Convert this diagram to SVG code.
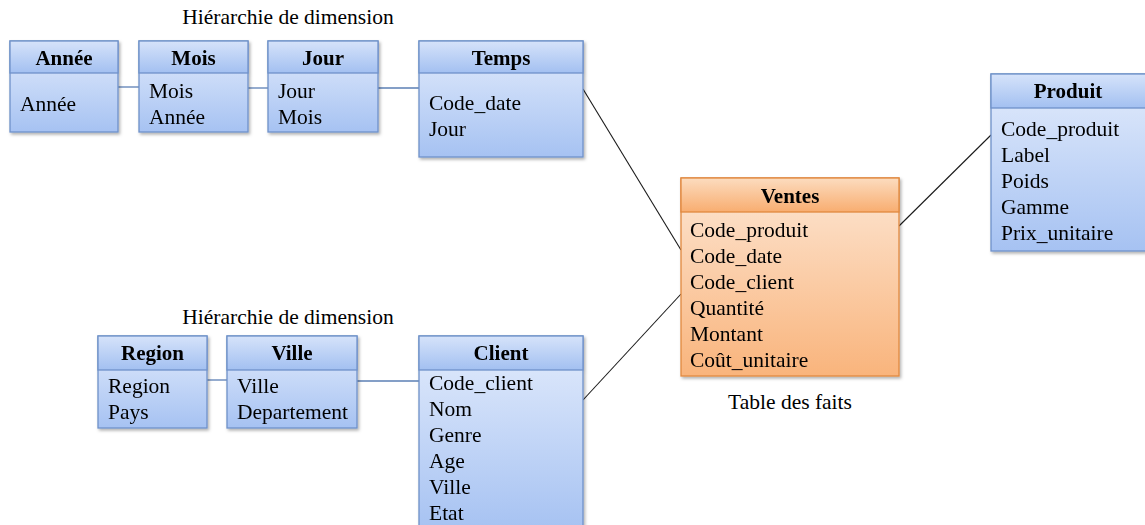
<svg xmlns="http://www.w3.org/2000/svg" width="1145" height="525" viewBox="0 0 1145 525">
<style>
text{font-family:"Liberation Serif","Times New Roman",serif;font-size:21.5px;fill:#000}
.h{font-weight:bold;text-anchor:middle;font-size:21px}
.lbl{font-size:21.5px}
.bb{fill:url(#gBody);stroke:#6f91c9;stroke-width:1.3}
.bh{fill:url(#gHead);stroke:#6f91c9;stroke-width:1.3}
.ob{fill:url(#oBody);stroke:#e0893f;stroke-width:1.3}
.oh{fill:url(#oHead);stroke:#e0893f;stroke-width:1.3}
.c{stroke:#1a1a1a;stroke-width:1.1;fill:none}
.cb{stroke:#5b7fb5;stroke-width:1.3;fill:none}
</style>
<defs>
<linearGradient id="gHead" x1="0" y1="0" x2="0" y2="1"><stop offset="0" stop-color="#d6e3fa"/><stop offset="1" stop-color="#a3c0f1"/></linearGradient>
<linearGradient id="gBody" x1="0" y1="0" x2="0" y2="1"><stop offset="0" stop-color="#e3ecfc"/><stop offset="1" stop-color="#a6c2f2"/></linearGradient>
<linearGradient id="oHead" x1="0" y1="0" x2="0" y2="1"><stop offset="0" stop-color="#fcdcbf"/><stop offset="1" stop-color="#f8ad70"/></linearGradient>
<linearGradient id="oBody" x1="0" y1="0" x2="0" y2="1"><stop offset="0" stop-color="#fde6d3"/><stop offset="1" stop-color="#f9b47c"/></linearGradient>
<filter id="sh" x="-10%" y="-10%" width="130%" height="130%"><feDropShadow dx="1.5" dy="2" stdDeviation="1.5" flood-color="#000" flood-opacity="0.3"/></filter>
</defs>
<rect width="1145" height="525" fill="#fff"/>
<g id="connectors">
<line class="cb" x1="118" y1="87" x2="139" y2="87"/>
<line class="cb" x1="248" y1="88" x2="268" y2="88"/>
<line class="cb" x1="378" y1="88" x2="419" y2="88"/>
<line class="c" x1="583" y1="89" x2="681" y2="250"/>
<line class="c" x1="583" y1="400" x2="681" y2="294"/>
<line class="c" x1="899" y1="226" x2="991" y2="135"/>
<line class="cb" x1="207" y1="380" x2="227" y2="380"/>
<line class="cb" x1="357" y1="381" x2="419" y2="381"/>
</g>
<g id="labels">
<text class="lbl" x="288" y="24" text-anchor="middle">Hiérarchie de dimension</text>
<text class="lbl" x="288" y="324" text-anchor="middle">Hiérarchie de dimension</text>
<text class="lbl" x="790" y="409" text-anchor="middle">Table des faits</text>
</g>
<g id="annee" filter="url(#sh)">
<rect class="bb" x="10" y="41" width="108" height="91"/>
<rect class="bh" x="10" y="41" width="108" height="32"/>
<text class="h" x="64" y="65">Année</text>
<text x="20" y="111">Année</text>
</g>
<g id="mois" filter="url(#sh)">
<rect class="bb" x="139" y="41" width="109" height="91"/>
<rect class="bh" x="139" y="41" width="109" height="32"/>
<text class="h" x="193.5" y="65">Mois</text>
<text x="149" y="98">Mois</text>
<text x="149" y="124">Année</text>
</g>
<g id="jour" filter="url(#sh)">
<rect class="bb" x="268" y="41" width="110" height="91"/>
<rect class="bh" x="268" y="41" width="110" height="32"/>
<text class="h" x="323" y="65">Jour</text>
<text x="278" y="98">Jour</text>
<text x="278" y="124">Mois</text>
</g>
<g id="temps" filter="url(#sh)">
<rect class="bb" x="419" y="41" width="164" height="116"/>
<rect class="bh" x="419" y="41" width="164" height="32"/>
<text class="h" x="501" y="65">Temps</text>
<text x="429" y="110">Code_date</text>
<text x="429" y="136">Jour</text>
</g>
<g id="ventes" filter="url(#sh)">
<rect class="ob" x="681" y="178" width="218" height="198"/>
<rect class="oh" x="681" y="178" width="218" height="34"/>
<text class="h" x="790" y="203">Ventes</text>
<text x="690" y="237">Code_produit</text>
<text x="690" y="263">Code_date</text>
<text x="690" y="289">Code_client</text>
<text x="690" y="315">Quantité</text>
<text x="690" y="341">Montant</text>
<text x="690" y="367">Coût_unitaire</text>
</g>
<g id="produit" filter="url(#sh)">
<rect class="bb" x="991" y="74" width="160" height="177"/>
<rect class="bh" x="991" y="74" width="160" height="34"/>
<text class="h" x="1068" y="98">Produit</text>
<text x="1001" y="136">Code_produit</text>
<text x="1001" y="162">Label</text>
<text x="1001" y="188">Poids</text>
<text x="1001" y="214">Gamme</text>
<text x="1001" y="240">Prix_unitaire</text>
</g>
<g id="region" filter="url(#sh)">
<rect class="bb" x="98" y="336" width="109" height="92"/>
<rect class="bh" x="98" y="336" width="109" height="34"/>
<text class="h" x="152.5" y="360">Region</text>
<text x="108" y="393">Region</text>
<text x="108" y="419">Pays</text>
</g>
<g id="ville" filter="url(#sh)">
<rect class="bb" x="227" y="336" width="130" height="92"/>
<rect class="bh" x="227" y="336" width="130" height="34"/>
<text class="h" x="292" y="360">Ville</text>
<text x="237" y="393">Ville</text>
<text x="237" y="419">Departement</text>
</g>
<g id="client" filter="url(#sh)">
<rect class="bb" x="419" y="336" width="164" height="195"/>
<rect class="bh" x="419" y="336" width="164" height="34"/>
<text class="h" x="501" y="360">Client</text>
<text x="429" y="390">Code_client</text>
<text x="429" y="416">Nom</text>
<text x="429" y="442">Genre</text>
<text x="429" y="468">Age</text>
<text x="429" y="494">Ville</text>
<text x="429" y="520">Etat</text>
</g>
</svg>
